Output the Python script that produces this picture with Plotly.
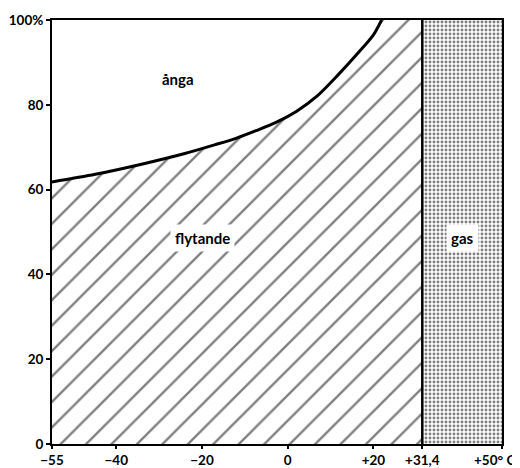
import plotly.graph_objects as go

# Data
curve_x = [-55.0, -44.9, -33.6, -24.0, -16.9, -12.1, -7.4, -2.6, 2.1, 6.9, 11.7, 16.4, 20.0, 21.9]
curve_y = [61.8, 63.6, 66.1, 68.5, 70.6, 72.1, 73.9, 75.9, 78.5, 82.1, 87.0, 92.2, 96.5, 100.0]
critical_t = 31.4
x_min, x_max = -55, 50
y_min, y_max = 0, 100

x_ticks = [-55, -40, -20, 0, 20, 31.4, 50]
x_ticktext = ["\u221255", "\u221240", "\u221220", "0", "+20", "+31,4", "+50\u00b0 C"]
y_ticks = [0, 20, 40, 60, 80, 100]
y_ticktext = ["0", "20", "40", "60", "80", "100%"]

labels = [("ånga", -25.5, 86, False), ("flytande", -20, 48.5, True), ("gas", 40.7, 48.5, True)]

FONT = "Lato"
TICKFONT = dict(family=FONT, size=13.5, color="black", weight="bold")

fig = go.Figure()

# liquid region (hatched)
liq_x = [x_min] + curve_x + [critical_t, critical_t, x_min]
liq_y = [y_min] + curve_y + [y_max, y_min, y_min]
fig.add_trace(go.Scatter(
    x=liq_x, y=liq_y, fill="toself", mode="lines",
    line=dict(width=0, color="rgba(0,0,0,0)"),
    fillcolor="white",
    fillpattern=dict(shape="/", fgcolor="black", bgcolor="white", size=18, solidity=0.13),
    hoverinfo="skip", showlegend=False))

# gas region (dotted)
fig.add_trace(go.Scatter(
    x=[critical_t, x_max, x_max, critical_t, critical_t],
    y=[y_min, y_min, y_max, y_max, y_min], fill="toself", mode="lines",
    line=dict(width=0, color="rgba(0,0,0,0)"),
    fillcolor="white",
    fillpattern=dict(shape=".", fgcolor="black", bgcolor="white", size=4, solidity=0.42),
    hoverinfo="skip", showlegend=False))

# vapour pressure curve
fig.add_trace(go.Scatter(
    x=curve_x, y=curve_y, mode="lines",
    line=dict(color="black", width=3, shape="spline", smoothing=0.8),
    hoverinfo="skip", showlegend=False))

# critical temperature line
fig.add_trace(go.Scatter(
    x=[critical_t, critical_t], y=[y_min, y_max], mode="lines",
    line=dict(color="black", width=2.5), hoverinfo="skip", showlegend=False))

for text, lx, ly, bg in labels:
    fig.add_annotation(
        x=lx, y=ly, text=text, showarrow=False,
        font=dict(family=FONT, size=15, color="black", weight="bold"),
        bgcolor="white" if bg else None, borderpad=4)

# last x tick label is placed as an annotation so it stays inside the page
shown_ticktext = x_ticktext[:-1] + [""]
fig.add_annotation(
    x=x_ticks[-1], xref="x", y=0, yref="paper", text=x_ticktext[-1],
    showarrow=False, xanchor="right", yanchor="middle", xshift=15, yshift=-16,
    font=TICKFONT)

fig.update_xaxes(
    range=[x_min, x_max], tickvals=x_ticks, ticktext=shown_ticktext,
    ticks="outside", ticklen=3, tickwidth=1.5, tickcolor="black",
    showline=True, linecolor="black", linewidth=2, mirror=True,
    showgrid=False, zeroline=False, automargin=False,
    tickfont=TICKFONT)
fig.update_yaxes(
    range=[y_min, y_max], tickvals=y_ticks, ticktext=y_ticktext,
    ticks="outside", ticklen=4, tickwidth=1.5, tickcolor="black",
    showline=True, linecolor="black", linewidth=2, mirror=True,
    showgrid=False, zeroline=False, automargin=False,
    tickfont=TICKFONT)

# page body has an 8px margin, so the figure is offset by 8px
fig.update_layout(
    width=512, height=460,
    margin=dict(l=44, r=18, t=12, b=24),
    paper_bgcolor="white", plot_bgcolor="white",
)

fig.write_html("out.html")
